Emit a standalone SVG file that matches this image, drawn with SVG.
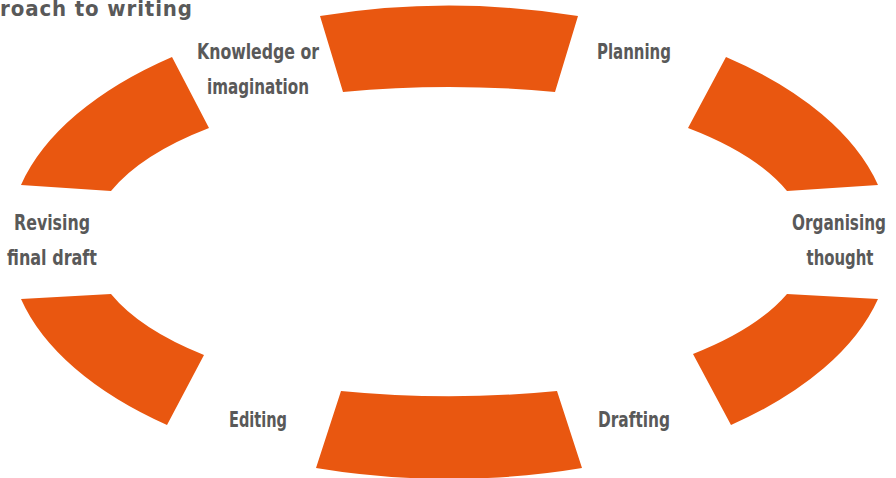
<svg xmlns="http://www.w3.org/2000/svg" width="896" height="478" viewBox="0 0 896 478">
<style>
.seg{fill:#E95710;stroke:none}
.lbl{font-family:"DejaVu Sans Condensed","Liberation Sans",sans-serif;font-stretch:condensed;font-weight:bold;font-size:22px;fill:#595959;text-anchor:middle}
.title{font-family:"DejaVu Sans Condensed","Liberation Sans",sans-serif;font-stretch:condensed;font-weight:bold;font-size:22px;fill:#595959}
</style>
<rect width="896" height="478" fill="#ffffff"/>
<text class="title" x="0" y="16" textLength="192" lengthAdjust="spacing">roach to writing</text>
<g id="seg-top"><path class="seg" d="M320 16 A442 235 0 0 1 578 16 L555 92 A420 155 0 0 0 343 92 Z"/></g>
<g id="seg-right-top"><path class="seg" d="M726 57 A442 235 0 0 1 878 185 L787 191 A358 153 0 0 0 688 128 Z"/></g>
<g id="seg-right-bottom"><path class="seg" d="M787 294 L878 299 A442 235 0 0 1 731 425 L693 354 A358 153 0 0 0 787 294 Z"/></g>
<g id="seg-bottom"><path class="seg" d="M341 391 A420 155 0 0 0 557 391 L582 468 A442 235 0 0 1 316 468 Z"/></g>
<g id="seg-left-bottom"><path class="seg" d="M167 425 A442 235 0 0 1 21 299 L111 294 A358 153 0 0 0 204 355 Z"/></g>
<g id="seg-left-top"><path class="seg" d="M21 185 A442 235 0 0 1 172 57 L209 128 A358 153 0 0 0 111 191 Z"/></g>
<g id="knowledge"><text class="lbl" x="258" y="59" textLength="122" lengthAdjust="spacingAndGlyphs">Knowledge or</text><text class="lbl" x="258" y="94" textLength="102" lengthAdjust="spacingAndGlyphs">imagination</text></g>
<g id="planning"><text class="lbl" x="634" y="59" textLength="74" lengthAdjust="spacingAndGlyphs">Planning</text></g>
<g id="organising"><text class="lbl" x="839" y="230" textLength="94" lengthAdjust="spacingAndGlyphs">Organising</text><text class="lbl" x="840" y="265" textLength="67" lengthAdjust="spacingAndGlyphs">thought</text></g>
<g id="drafting"><text class="lbl" x="634" y="427" textLength="72" lengthAdjust="spacingAndGlyphs">Drafting</text></g>
<g id="editing"><text class="lbl" x="258" y="427" textLength="58" lengthAdjust="spacingAndGlyphs">Editing</text></g>
<g id="revising"><text class="lbl" x="52" y="230" textLength="76" lengthAdjust="spacingAndGlyphs">Revising</text><text class="lbl" x="52" y="265" textLength="90" lengthAdjust="spacingAndGlyphs">final draft</text></g>
<g id="connectors"></g>
</svg>
